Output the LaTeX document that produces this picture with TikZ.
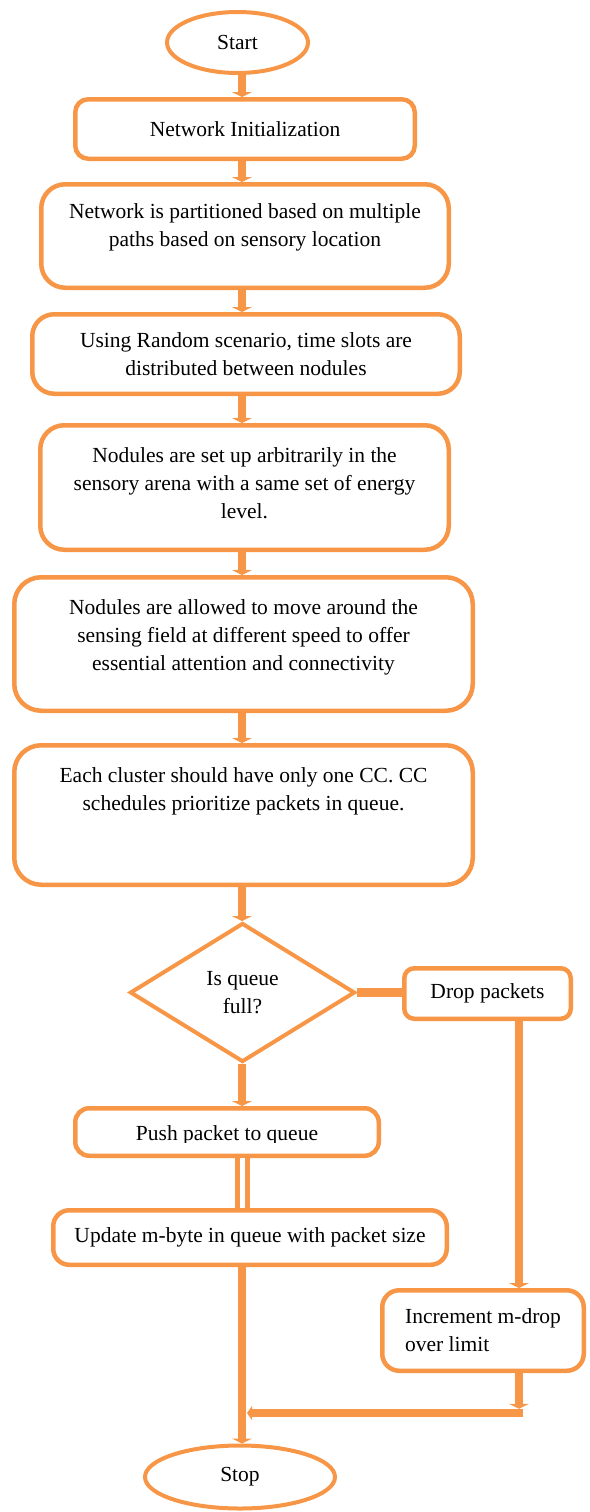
\documentclass[tikz,border=0pt]{standalone}
\usepackage{fontspec}
\setmainfont{Liberation Serif}
\usetikzlibrary{shapes.geometric,arrows.meta}
\definecolor{flowor}{HTML}{F79646}
\tikzset{
  stepbox/.style={draw=flowor, line width=4.5pt, rounded corners=#1, inner sep=0pt, align=center},
  stepbox/.default=15pt,
  terminal/.style={draw=flowor, line width=4pt, ellipse, inner sep=0pt},
  decision/.style={draw=flowor, line width=4pt, diamond, inner sep=0pt, align=center},
  boxtext/.style={align=center, inner sep=0pt},
  link/.style={draw=flowor, line width=8.5pt},
  flow/.style={link, -{Triangle[width=20pt,length=5pt]}},
  hollow/.style={draw=flowor, line width=5pt, double=white, double distance=5pt},
}
\begin{document}
\begin{tikzpicture}[x=1pt, y=-1pt, font=\fontsize{21.5pt}{28pt}\selectfont]
\useasboundingbox (0,0) rectangle (589,1512);
\coordinate (col) at (242,0);
% main column
\node (start) at (237.5,42.5) [terminal, minimum width=141pt, minimum height=61pt] {Start};
\node (init) at (245,129) [stepbox=13pt, minimum width=339.5pt, minimum height=59.5pt] {Network Initialization};
\node (partition) at (245,236) [stepbox=24pt, minimum width=407.5pt, minimum height=103.5pt] {};
\node (partitiontxt) at ([yshift=8.5pt]partition.center) [boxtext] {Network is partitioned based on multiple\\paths based on sensory location};
\node (random) at (246,354) [stepbox=22pt, minimum width=427.5pt, minimum height=79.5pt] {Using Random scenario, time slots are\\distributed between nodules};
\node (setup) at (244.5,487.5) [stepbox=24pt, minimum width=408.5pt, minimum height=124.5pt] {};
\node (setuptxt) at ([yshift=4.5pt]setup.center) [boxtext] {Nodules are set up arbitrarily in the\\sensory arena with a same set of energy\\level.};
\node (move) at (243.5,644) [stepbox=27pt, minimum width=458.5pt, minimum height=133.5pt] {};
\node (movetxt) at ([yshift=7pt]move.center) [boxtext] {Nodules are allowed to move around the\\sensing field at different speed to offer\\essential attention and connectivity};
\node (cluster) at (243.5,815) [stepbox=27pt, minimum width=458.5pt, minimum height=139.5pt] {};
\node (clustertxt) at ([yshift=24pt]cluster.center) [boxtext] {Each cluster should have only one CC. CC\\schedules prioritize packets in queue.};
\node (queue) at (242.5,992.5) [decision, minimum width=225pt, minimum height=139pt] {Is queue\\full?};
\node (push) at (227,1132) [stepbox=14pt, minimum width=303.5pt, minimum height=47.5pt] {};
\begin{scope}
  \clip (push.north west) rectangle ([yshift=-10pt]push.east);
  \node (pushtxt) at ([yshift=-3pt]push.center) [boxtext] {Push packet to queue};
\end{scope}
\node (update) at (250,1237.5) [stepbox=16pt, minimum width=393.5pt, minimum height=54.5pt] {Update m-byte in queue with packet size};
\node (stop) at (240,1477) [terminal, minimum width=190pt, minimum height=63pt] {Stop};
% drop branch
\node (drop) at (487.5,993.5) [stepbox=10pt, minimum width=166.5pt, minimum height=50.5pt] {Drop packets};
\node (incr) at (483,1330.5) [stepbox=17pt, minimum width=201.5pt, minimum height=80.5pt, align=left] {Increment m-drop\\over limit};
\coordinate (droptap) at ([xshift=31.5pt]drop.south);
\coordinate (corner) at (519,1413);
\coordinate (merge) at (247,1413);
% connectors
\draw[flow] (col |- start.south) -- (col |- init.north);
\draw[flow] (col |- init.south) -- (col |- partition.north);
\draw[flow] (col |- partition.south) -- (col |- random.north);
\draw[flow] (col |- random.south) -- (col |- setup.north);
\draw[flow] (col |- setup.south) -- (col |- move.north);
\draw[flow] (col |- move.south) -- (col |- cluster.north);
\draw[flow] (col |- cluster.south) -- (col |- queue.north);
\draw[flow] (col |- queue.south) -- (col |- push.north);
\draw[hollow] (col |- push.south) -- (col |- update.north);
\draw[flow] (col |- update.south) -- (col |- stop.north);
\draw[link] (queue.east) -- (queue.east -| drop.west);
\draw[flow] (droptap) -- (droptap |- incr.north);
\draw[flow] (droptap |- incr.south) -- ([yshift=4.25pt]corner);
\draw[flow, -{Triangle[width=14pt,length=5pt]}] ([xshift=4.25pt]corner) -- (merge);
\end{tikzpicture}
\end{document}
